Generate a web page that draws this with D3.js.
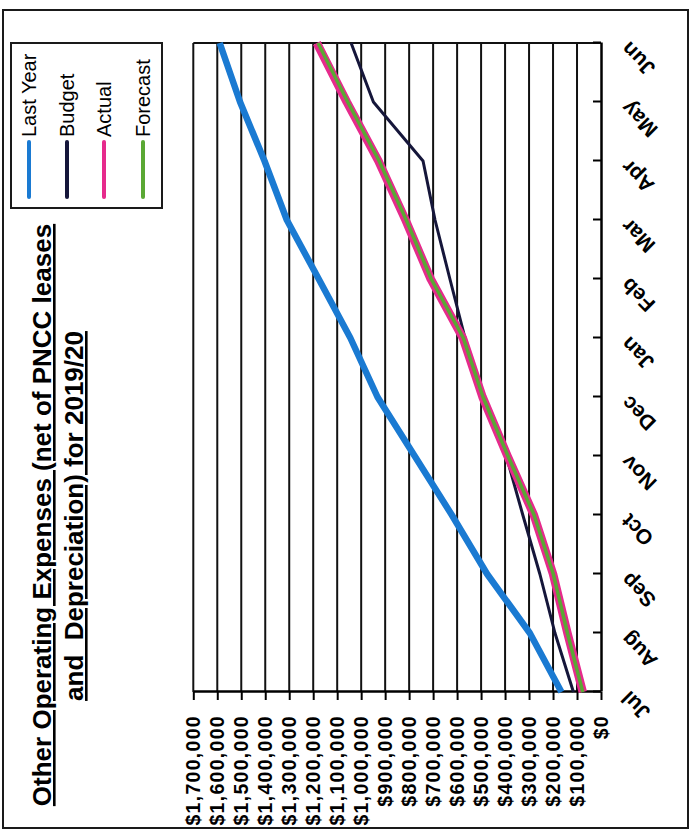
<!DOCTYPE html>
<html>
<head>
<meta charset="utf-8">
<script src="https://cdn.jsdelivr.net/npm/d3@7"></script>
<style>
  html, body { margin: 0; padding: 0; background: #fff; }
  svg { display: block; }
</style>
</head>
<body>
<svg id="chart"></svg>
<script>
// Monthly cumulative operating expenses, 2019/20 financial year
const months = ["Jul", "Aug", "Sep", "Oct", "Nov", "Dec", "Jan", "Feb", "Mar", "Apr", "May", "Jun"];
const lastYear = [165000, 297000, 475000, 622000, 777000, 932000, 1045000, 1177000, 1310000, 1403000, 1505000, 1590000];
const budget   = [115000, 192000, 255000, 326000, 395000, 496000, 567000, 630000, 692000, 742000, 949000, 1042000];
const actual   = [76000, 140000, 200000, 280000, 390000, 494000, 576000, 710000, 815000, 928000, 1060000, 1185000];
const forecast = [76000, 140000, 199000, 279000, 388000, 492000, 574000, 708000, 812000, 925000, 1056000, 1180000];
const valueTicks = d3.range(0, 1700001, 100000);

const seriesNames = ["Last Year", "Budget", "Actual", "Forecast"];
const seriesValues = [lastYear, budget, actual, forecast];
const seriesColors = ["#1a7ad2", "#15163a", "#e62a8c", "#5aa834"];
const seriesWidths = [6.5, 3, 8.5, 3.5];

const W = 691, H = 831;
const svg = d3.select("#chart").attr("width", W).attr("height", H);
svg.append("rect").attr("width", W).attr("height", H).attr("fill", "#fff");

// The page is laid out sideways: everything is drawn in a landscape frame
// and turned a quarter turn anticlockwise.
const g = svg.append("g").attr("transform", `translate(0,${H}) rotate(-90)`);
const font = "'Liberation Sans', Arial, sans-serif";

// outer frame
g.append("rect")
  .attr("x", 3).attr("y", 3).attr("width", 818).attr("height", 685)
  .attr("fill", "none").attr("stroke", "#1a1a1a").attr("stroke-width", 2);

// scales
const x = d3.scalePoint().domain(months).range([139, 788]);
const y = d3.scaleLinear().domain([0, 1700000]).range([601, 193.3]);

// gridlines
g.append("g").selectAll("line").data(valueTicks.filter(d => d > 0)).join("line")
  .attr("x1", 139).attr("x2", 788)
  .attr("y1", d => y(d)).attr("y2", d => y(d))
  .attr("stroke", "#111").attr("stroke-width", 2);

// right edge of plot
g.append("line")
  .attr("x1", 788).attr("x2", 788).attr("y1", y(1700000)).attr("y2", y(0))
  .attr("stroke", "#111").attr("stroke-width", 2);

// value axis
const yAxis = g.append("g").attr("transform", "translate(139,0)")
  .call(d3.axisLeft(y).tickValues(valueTicks).tickSize(8).tickSizeOuter(0).tickPadding(15)
    .tickFormat(d => "$" + d3.format(",")(d)));
yAxis.select(".domain").attr("stroke", "#000").attr("stroke-width", 2.5);
yAxis.selectAll(".tick line").attr("stroke", "#000").attr("stroke-width", 2);
yAxis.selectAll("text")
  .attr("fill", "#000")
  .style("font-family", font).style("font-size", "19.5px").style("font-weight", "bold")
  .style("letter-spacing", "1.3px");

// month axis
const xAxis = g.append("g").attr("transform", "translate(0,601)")
  .call(d3.axisBottom(x).tickSize(-8).tickSizeOuter(0));
xAxis.select(".domain").attr("stroke", "#000").attr("stroke-width", 2.5);
xAxis.selectAll(".tick line").attr("stroke", "#000").attr("stroke-width", 2);
xAxis.selectAll("text")
  .attr("x", 0).attr("y", 0).attr("dy", 0)
  .attr("transform", "translate(2,29) rotate(-45)")
  .style("text-anchor", "end")
  .attr("fill", "#000")
  .style("font-family", font).style("font-size", "21px").style("font-weight", "bold");

// series lines
const line = d3.line().x((d, i) => x(months[i])).y(d => y(d));
g.append("g").selectAll("path").data(seriesValues).join("path")
  .attr("d", d => line(d))
  .attr("fill", "none")
  .attr("stroke", (d, i) => seriesColors[i])
  .attr("stroke-width", (d, i) => seriesWidths[i])
  .attr("stroke-linejoin", "round");

// title
const title = g.append("text")
  .attr("text-anchor", "middle")
  .style("font-family", font).style("font-size", "26px").style("font-weight", "bold")
  .style("text-decoration", "underline").style("white-space", "pre")
  .attr("fill", "#000");
title.append("tspan").attr("x", 316).attr("y", 51).text("Other Operating Expenses (net of PNCC leases");
title.append("tspan").attr("x", 315).attr("y", 83).text("and  Depreciation) for 2019/20");

// legend
const legend = g.append("g");
legend.append("rect")
  .attr("x", 623).attr("y", 11).attr("width", 165).attr("height", 151)
  .attr("fill", "#fff").attr("stroke", "#1a1a1a").attr("stroke-width", 2);
const legendY = [29, 67, 104, 143];
const items = legend.selectAll("g.item").data(seriesNames).join("g").attr("class", "item");
items.append("line")
  .attr("x1", 634).attr("x2", 689)
  .attr("y1", (d, i) => legendY[i]).attr("y2", (d, i) => legendY[i])
  .attr("stroke", (d, i) => seriesColors[i])
  .attr("stroke-width", 4).attr("stroke-linecap", "round");
items.append("text")
  .attr("x", 694).attr("y", (d, i) => legendY[i]).attr("dy", "0.35em")
  .style("font-family", font).style("font-size", "20px")
  .attr("fill", "#000")
  .text(d => d);
</script>
</body>
</html>
